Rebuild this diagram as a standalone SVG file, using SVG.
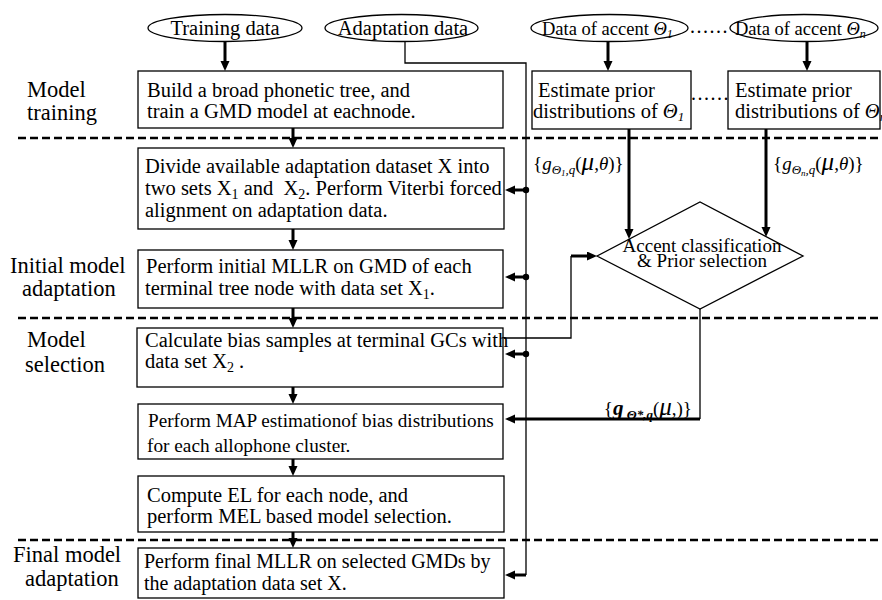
<svg xmlns="http://www.w3.org/2000/svg" width="882" height="600" viewBox="0 0 882 600" font-family="Times New Roman, Liberation Serif, serif">
<style>
.t{fill:#000}
.i{font-style:italic}
.b{font-weight:bold}
.box{fill:#fff;stroke:#000;stroke-width:1.3}
.thin{fill:none;stroke:#000;stroke-width:1.3}
.thick{fill:none;stroke:#000;stroke-width:3;marker-end:url(#ah)}
.dash{stroke:#000;stroke-width:2.7;stroke-dasharray:8 4}
</style>
<defs>
<marker id="ah" markerUnits="userSpaceOnUse" markerWidth="10" markerHeight="10" refX="3" refY="4.5" orient="auto">
<path d="M0,0 L10,4.5 L0,9 z" fill="#000"/>
</marker>
</defs>
<rect width="882" height="600" fill="#fff"/>

<g id="separators">
<line class="dash" x1="18" y1="138" x2="882" y2="138"/>
<line class="dash" x1="18" y1="318" x2="882" y2="318"/>
<line class="dash" x1="18" y1="540" x2="882" y2="540"/>
</g>

<g id="stage-labels" class="t">
<text x="27" y="97" font-family="Times New Roman, Liberation Serif, serif" font-size="22.5">Model</text>
<text x="27" y="120" font-family="Times New Roman, Liberation Serif, serif" font-size="22.5">training</text>
<text x="10" y="273" font-family="Times New Roman, Liberation Serif, serif" font-size="22.5">Initial model</text>
<text x="22" y="296" font-family="Times New Roman, Liberation Serif, serif" font-size="22.5">adaptation</text>
<text x="27" y="347" font-family="Times New Roman, Liberation Serif, serif" font-size="22.5">Model</text>
<text x="25" y="372" font-family="Times New Roman, Liberation Serif, serif" font-size="22.5">selection</text>
<text x="13" y="562" font-family="Times New Roman, Liberation Serif, serif" font-size="22.5">Final model</text>
<text x="25" y="586" font-family="Times New Roman, Liberation Serif, serif" font-size="22.5">adaptation</text>
</g>

<g id="connectors">
<path class="thin" d="M405,41 V63 H526 V575"/>
<path class="thick" d="M225,42 V64"/>
<path class="thick" d="M293,128 V141"/>
<path class="thick" d="M293,229 V243"/>
<path class="thick" d="M293,308 V321"/>
<path class="thick" d="M293,387 V397"/>
<path class="thick" d="M293,459 V469"/>
<path class="thick" d="M293,532 V541"/>
<path class="thick" d="M608,42 V64"/>
<path class="thick" d="M807,42 V64"/>
<path class="thick" d="M629,129 V232"/>
<path class="thick" d="M766,129 V230"/>
<path class="thick" d="M526,190 H512"/>
<path class="thick" d="M526,277 H512"/>
<path class="thick" d="M526,354 H512"/>
<path class="thick" d="M526,575 H512"/>
<circle cx="526" cy="190" r="3.2" fill="#000"/>
<circle cx="526" cy="277" r="3.2" fill="#000"/>
<circle cx="526" cy="354" r="3.2" fill="#000"/>
<path class="thin" d="M504,338 H571 V256"/>
<path class="thick" d="M571,256 H590"/>
<path class="thin" d="M700,309 V419"/>
<path class="thick" d="M700,419 H512"/>
<text class="t" x="690" y="33" font-family="Times New Roman, Liberation Serif, serif" font-size="20" letter-spacing="1.5">......</text>
<text class="t" x="691" y="100" font-family="Times New Roman, Liberation Serif, serif" font-size="20" letter-spacing="1.5">......</text>
</g>

<g id="training-data">
<ellipse class="box" cx="225" cy="28" rx="77" ry="13.5"/>
<text class="t" x="225" y="35" font-family="Times New Roman, Liberation Serif, serif" font-size="20.5" text-anchor="middle">Training data</text>
</g>
<g id="adaptation-data">
<ellipse class="box" cx="401.5" cy="28" rx="76.5" ry="13.5"/>
<text class="t" x="403" y="35" font-family="Times New Roman, Liberation Serif, serif" font-size="20.5" text-anchor="middle">Adaptation data</text>
</g>
<g id="accent-1-data">
<ellipse class="box" cx="609.5" cy="28" rx="78.5" ry="13.5"/>
<text class="t" x="542" y="35" font-family="Times New Roman, Liberation Serif, serif" font-size="18.5">Data of accent <tspan class="i">Θ</tspan><tspan class="i" font-size="12" dy="3">1</tspan></text>
</g>
<g id="accent-n-data">
<ellipse class="box" cx="804" cy="28" rx="74" ry="13.5"/>
<text class="t" x="735" y="35" font-family="Times New Roman, Liberation Serif, serif" font-size="18.5">Data of accent <tspan class="i">Θ</tspan><tspan class="i" font-size="12" dy="3">n</tspan></text>
</g>

<g id="build-tree">
<rect class="box" x="138" y="71" width="365" height="57"/>
<text class="t" x="147" y="97" font-family="Times New Roman, Liberation Serif, serif" font-size="20.5">Build a broad phonetic tree, and</text>
<text class="t" x="147" y="118" font-family="Times New Roman, Liberation Serif, serif" font-size="20.5">train a GMD model at eachnode.</text>
</g>
<g id="prior-1">
<rect class="box" x="532" y="71" width="159" height="58"/>
<text class="t" x="538" y="97" font-family="Times New Roman, Liberation Serif, serif" font-size="20.5">Estimate prior</text>
<text class="t" x="533" y="118" font-family="Times New Roman, Liberation Serif, serif" font-size="20.5">distributions of <tspan class="i">Θ</tspan><tspan class="i" font-size="13" dy="3">1</tspan></text>
</g>
<g id="prior-n">
<rect class="box" x="728" y="71" width="152" height="58"/>
<text class="t" x="735" y="97" font-family="Times New Roman, Liberation Serif, serif" font-size="20.5">Estimate prior</text>
<text class="t" x="735" y="118" font-family="Times New Roman, Liberation Serif, serif" font-size="20.5">distributions of <tspan class="i">Θ</tspan><tspan class="i" font-size="13" dy="3">n</tspan></text>
</g>

<g id="prior-labels" class="t">
<text x="533" y="170" font-family="Times New Roman, Liberation Serif, serif" font-size="19">{<tspan class="i">g</tspan><tspan class="i" font-size="13" dy="4">Θ</tspan><tspan class="i" font-size="9" dy="2">1</tspan><tspan class="i" font-size="13" dy="-2">,q</tspan><tspan dy="-4">(</tspan><tspan class="i" font-size="25">μ</tspan>,<tspan class="i">θ</tspan>)}</text>
<text x="773" y="170" font-family="Times New Roman, Liberation Serif, serif" font-size="19">{<tspan class="i">g</tspan><tspan class="i" font-size="13" dy="4">Θ</tspan><tspan class="i" font-size="9" dy="2">n</tspan><tspan class="i" font-size="13" dy="-2">,q</tspan><tspan dy="-4">(</tspan><tspan class="i" font-size="25">μ</tspan>,<tspan class="i">θ</tspan>)}</text>
<text x="692" y="415" font-family="Times New Roman, Liberation Serif, serif" font-size="19" text-anchor="end">{<tspan class="i b" font-size="21">g</tspan><tspan class="i b" font-size="13" dy="4"> Θ*,q</tspan><tspan dy="-4">(</tspan><tspan class="i" font-size="25">μ</tspan>,)}</text>
</g>

<g id="split-data">
<rect class="box" x="138" y="148" width="366" height="81"/>
<text class="t" x="145" y="173" font-family="Times New Roman, Liberation Serif, serif" font-size="20.5">Divide available adaptation dataset X into</text>
<text class="t" x="145" y="195" font-family="Times New Roman, Liberation Serif, serif" font-size="20.5" style="white-space:pre">two sets X<tspan font-size="14" dy="4">1</tspan><tspan dy="-4"> and  X</tspan><tspan font-size="14" dy="4">2</tspan><tspan dy="-4">. Perform Viterbi forced</tspan></text>
<text class="t" x="145" y="217" font-family="Times New Roman, Liberation Serif, serif" font-size="20.5">alignment on adaptation data.</text>
</g>
<g id="initial-mllr">
<rect class="box" x="138" y="250" width="365" height="58"/>
<text class="t" x="146" y="273" font-family="Times New Roman, Liberation Serif, serif" font-size="20.5">Perform initial MLLR on GMD of each</text>
<text class="t" x="145" y="295" font-family="Times New Roman, Liberation Serif, serif" font-size="20.5">terminal tree node with data set X<tspan font-size="14" dy="4">1</tspan><tspan dy="-4">.</tspan></text>
</g>
<g id="bias-samples">
<rect class="box" x="137" y="328" width="366" height="59"/>
<text class="t" x="145" y="347" font-family="Times New Roman, Liberation Serif, serif" font-size="20.5">Calculate bias samples at terminal GCs with</text>
<text class="t" x="145" y="368" font-family="Times New Roman, Liberation Serif, serif" font-size="20.5" style="white-space:pre">data set X<tspan font-size="14" dy="4">2</tspan><tspan dy="-4"> .</tspan></text>
</g>
<g id="accent-classification">
<polygon class="box" points="597,256 700,202 803,256 700,309"/>
<text class="t" x="702" y="252" font-family="Times New Roman, Liberation Serif, serif" font-size="19" text-anchor="middle">Accent classification</text>
<text class="t" x="702" y="267" font-family="Times New Roman, Liberation Serif, serif" font-size="19" text-anchor="middle">&amp; Prior selection</text>
</g>
<g id="map-estimation">
<rect class="box" x="138" y="404" width="365" height="55"/>
<text class="t" x="148" y="427" font-family="Times New Roman, Liberation Serif, serif" font-size="19.2">Perform MAP estimationof bias distributions</text>
<text class="t" x="147" y="452" font-family="Times New Roman, Liberation Serif, serif" font-size="19.3">for each allophone cluster.</text>
</g>
<g id="model-selection">
<rect class="box" x="138" y="476" width="366" height="56"/>
<text class="t" x="147" y="502" font-family="Times New Roman, Liberation Serif, serif" font-size="20.5">Compute EL for each node, and</text>
<text class="t" x="147" y="523" font-family="Times New Roman, Liberation Serif, serif" font-size="20.5">perform MEL based model selection.</text>
</g>
<g id="final-mllr">
<rect class="box" x="138" y="548" width="366" height="50"/>
<text class="t" x="144" y="568" font-family="Times New Roman, Liberation Serif, serif" font-size="20">Perform final MLLR on selected GMDs by</text>
<text class="t" x="144" y="590" font-family="Times New Roman, Liberation Serif, serif" font-size="20">the adaptation data set X.</text>
</g>
</svg>
